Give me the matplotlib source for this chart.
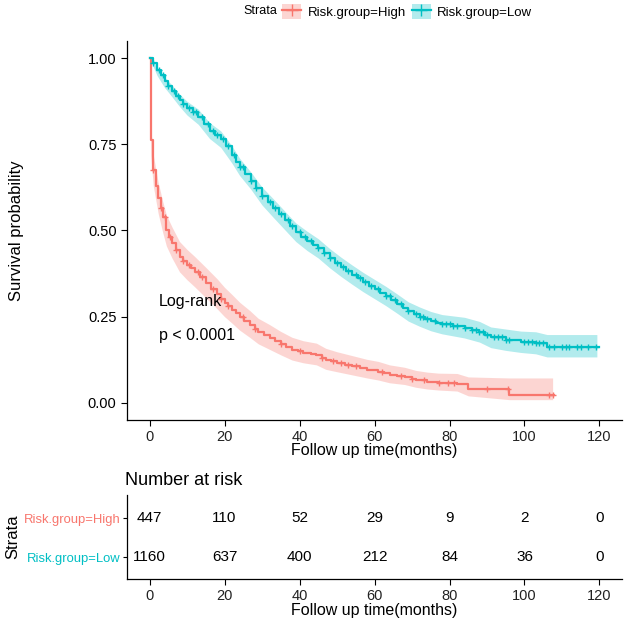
import numpy as np
import matplotlib
matplotlib.use("Agg")
import matplotlib.pyplot as plt
from matplotlib.patches import Patch
from matplotlib.lines import Line2D

plt.rcParams["font.family"] = ["Liberation Sans", "DejaVu Sans"]

RED = "#F8766D"
TEAL = "#00BFC4"

# Risk.group=High : step curve (time, survival)
high_t = [0, 0.3, 1, 1.6, 2.3, 3, 3.5, 4.5, 5.2, 6, 7, 8, 9, 10, 11, 12, 13.5, 15, 16.5,
          18, 19, 20, 21, 22, 23, 24, 25.3, 26.7, 28, 29, 30.5, 32, 33.5, 35, 36.5, 38,
          39.5, 41, 43, 44.5, 46, 47, 48.5, 50, 52, 54, 56, 58, 61, 62.5, 64, 66, 68, 70,
          71, 74, 77, 82, 85, 96, 108]
high_s = [1.0, 0.762, 0.675, 0.63, 0.594, 0.565, 0.539, 0.50, 0.48, 0.464, 0.443, 0.423,
          0.41, 0.40, 0.39, 0.38, 0.364, 0.348, 0.331, 0.315, 0.302, 0.29, 0.28, 0.27,
          0.26, 0.249, 0.237, 0.226, 0.215, 0.205, 0.196, 0.188, 0.179, 0.17, 0.162, 0.154,
          0.149, 0.145, 0.142, 0.139, 0.13, 0.125, 0.12, 0.116, 0.111, 0.106, 0.101, 0.096,
          0.09, 0.086, 0.081, 0.078, 0.075, 0.07, 0.066, 0.061, 0.058, 0.055, 0.04, 0.023,
          0.023]
# 95% band of the High group (edges read at these times)
high_band_t = [0, 0.3, 1, 2.3, 3.5, 4.5, 6, 8, 10, 12, 15, 18, 20, 22, 24, 26.7, 29, 32,
               35, 38, 41, 44.5, 47, 50, 54, 58, 61, 64, 68, 71, 74, 77, 82, 85, 96, 107.5]
high_lo = [1.0, 0.72, 0.63, 0.55, 0.495, 0.455, 0.42, 0.38, 0.357, 0.337, 0.305, 0.273,
           0.25, 0.231, 0.211, 0.19, 0.171, 0.155, 0.139, 0.124, 0.116, 0.11, 0.097, 0.09,
           0.081, 0.072, 0.066, 0.058, 0.053, 0.045, 0.04, 0.037, 0.034, 0.02, 0.009, 0.009]
high_hi = [1.0, 0.80, 0.72, 0.64, 0.585, 0.545, 0.51, 0.468, 0.445, 0.425, 0.393, 0.36,
           0.335, 0.314, 0.292, 0.268, 0.245, 0.227, 0.207, 0.19, 0.18, 0.173, 0.158, 0.148,
           0.137, 0.126, 0.12, 0.11, 0.103, 0.094, 0.089, 0.086, 0.085, 0.075, 0.072, 0.072]
high_cens = [1, 3, 4, 5.5, 7, 9, 10.5, 13, 14, 17, 19, 21, 25, 28, 35, 40, 46, 49, 51, 53,
             55, 62, 67, 70, 73.3, 77.3, 79.5, 81.3, 90, 95.5, 106.5, 107.5]

# Risk.group=Low
low_t = [0, 1, 2, 3, 4, 5, 6, 7, 8, 9, 10, 11.5, 13, 14.5, 16, 17.5, 19, 20.5, 22, 23, 24,
         25.5, 27, 28.5, 30, 31.5, 33, 34.5, 36, 37.5, 39, 40.5, 42, 43.5, 45, 46.5, 48,
         49.5, 51, 52.5, 54, 55.5, 57, 58.5, 60, 61.5, 63, 64.5, 66, 67.5, 69, 70.5, 72,
         73.5, 75, 76.5, 78, 81, 84, 86, 88, 89.5, 91, 95, 99, 103, 106, 120]
low_s = [1.0, 0.985, 0.965, 0.95, 0.935, 0.92, 0.905, 0.89, 0.878, 0.866, 0.855, 0.843,
         0.83, 0.81, 0.79, 0.778, 0.765, 0.745, 0.72, 0.70, 0.685, 0.665, 0.645, 0.622,
         0.6, 0.583, 0.565, 0.548, 0.53, 0.512, 0.495, 0.482, 0.47, 0.459, 0.448, 0.434,
         0.42, 0.407, 0.395, 0.383, 0.372, 0.361, 0.35, 0.34, 0.33, 0.32, 0.31, 0.299,
         0.288, 0.276, 0.265, 0.257, 0.25, 0.243, 0.237, 0.232, 0.228, 0.223, 0.218, 0.212,
         0.206, 0.198, 0.19, 0.183, 0.177, 0.174, 0.162, 0.162]
low_band_t = [0, 2, 4, 6, 8, 10, 13, 16, 19, 22, 24, 27, 30, 33, 36, 39, 42, 45, 48, 51,
              54, 57, 60, 63, 66, 69, 72, 75, 78, 81, 84, 88, 91, 95, 99, 103, 106, 119.3]
low_lo = [1.0, 0.95, 0.915, 0.888, 0.86, 0.835, 0.808, 0.767, 0.741, 0.695, 0.66, 0.62,
          0.574, 0.538, 0.503, 0.468, 0.442, 0.42, 0.392, 0.367, 0.344, 0.322, 0.302, 0.282,
          0.26, 0.237, 0.222, 0.209, 0.2, 0.194, 0.188, 0.176, 0.16, 0.152, 0.146, 0.142,
          0.133, 0.133]
low_hi = [1.0, 0.975, 0.945, 0.922, 0.896, 0.875, 0.852, 0.813, 0.789, 0.745, 0.71, 0.67,
          0.626, 0.592, 0.557, 0.522, 0.498, 0.476, 0.448, 0.423, 0.4, 0.378, 0.358, 0.338,
          0.316, 0.293, 0.278, 0.265, 0.256, 0.252, 0.248, 0.236, 0.22, 0.214, 0.208,
          0.206, 0.198, 0.198]
low_cens = [1, 2.5, 3.5, 5, 6.5, 7.5, 9, 10.5, 11.5, 12.5, 14, 15.5, 17, 18, 19.5, 21,
            22.5, 24, 25, 27, 28.5, 30, 32, 33.5, 35, 37, 38, 40, 41.5, 43, 45, 46.5, 48,
            50, 51.5, 53, 55, 56, 57.5, 59, 61, 63, 64, 65.5, 67, 69, 71, 72, 73, 74, 76,
            78, 79, 80, 81, 82, 84, 86, 87, 88, 89, 90, 92, 93, 94, 95, 96, 100, 101, 102,
            103, 104, 105, 106.5, 108, 110, 111, 112, 114, 115, 117, 119]

risk_times = [0, 20, 40, 60, 80, 100, 120]
risk_high = [447, 110, 52, 29, 9, 2, 0]
risk_low = [1160, 637, 400, 212, 84, 36, 0]


def surv_at(ts, ss, x):
    idx = np.searchsorted(ts, x, side="right") - 1
    return np.asarray(ss)[idx]


def km(ax, t, s, bt, lo, hi, cens, color):
    ax.fill_between(bt, lo, hi, color=color, alpha=0.3, lw=0, zorder=1)
    ax.step(t, s, where="post", color=color, lw=1.6, zorder=3)
    ax.plot(cens, surv_at(t, s, cens), ls="none", marker="+", ms=5, mew=1.0,
            color=color, zorder=4)


fig = plt.figure(figsize=(6.26, 6.19), dpi=100)
ax = fig.add_axes([0.2029, 0.3215, 0.7907, 0.6123])
km(ax, high_t, high_s, high_band_t, high_lo, high_hi, high_cens, RED)
km(ax, low_t, low_s, low_band_t, low_lo, low_hi, low_cens, TEAL)
ax.set_xlim(-6, 126)
ax.set_ylim(-0.05, 1.05)
ax.set_xticks(risk_times)
ax.set_yticks([0, 0.25, 0.5, 0.75, 1.0])
ax.set_yticklabels(["0.00", "0.25", "0.50", "0.75", "1.00"])
ax.set_xlabel("Follow up time(months)", fontsize=11.5, labelpad=-1)
ax.set_ylabel("Survival probability", fontsize=12, labelpad=46)
ax.text(2.5, 0.295, "Log-rank", fontsize=11.5, va="center")
ax.text(2.5, 0.195, "p < 0.0001", fontsize=11.5, va="center")

# risk table
tb = fig.add_axes([0.2029, 0.0646, 0.7907, 0.1357])
for x, h, l in zip(risk_times, risk_high, risk_low):
    tb.text(x, 2, str(h), ha="center", va="center", fontsize=11)
    tb.text(x, 1, str(l), ha="center", va="center", fontsize=11)
tb.set_xlim(-6, 126)
tb.set_ylim(0.44, 2.59)
tb.set_xticks(risk_times)
tb.set_yticks([1, 2])
tb.set_yticklabels(["Risk.group=Low", "Risk.group=High"])
tb.set_xlabel("Follow up time(months)", fontsize=11.5, labelpad=0)
tb.set_title("Number at risk", fontsize=13, loc="left", x=-0.005, pad=7)
fig.text(13 / 626, 1 - 537 / 619, "Strata", fontsize=12, rotation=90,
         ha="center", va="center")

for a in (ax, tb):
    for sp in ("top", "right"):
        a.spines[sp].set_visible(False)
    for sp in ("left", "bottom"):
        a.spines[sp].set_linewidth(0.9)
    a.tick_params(length=4, width=0.8, labelsize=10.5, colors="black")
    a.tick_params(axis="x", labelcolor="#222222")
tb.tick_params(axis="y", labelsize=9.4, pad=1.5, length=3)
for lab, c in zip(tb.get_yticklabels(), [TEAL, RED]):
    lab.set_color(c)

# top legend
handles = [(Patch(facecolor=c, alpha=0.3, edgecolor="none"),
            Line2D([], [], color=c, marker="+", ms=8, lw=1.6)) for c in (RED, TEAL)]
fig.text(0.4425, 0.982, "Strata", fontsize=9, va="center", ha="right")
fig.legend(handles, ["Risk.group=High", "Risk.group=Low"], loc="center left",
           bbox_to_anchor=(0.451, 0.982), ncol=2, frameon=False, fontsize=9.5,
           handlelength=1.4, handleheight=1.4, columnspacing=0.5, handletextpad=0.5,
           borderpad=0, borderaxespad=0)

fig.savefig("out.png", dpi=100)
